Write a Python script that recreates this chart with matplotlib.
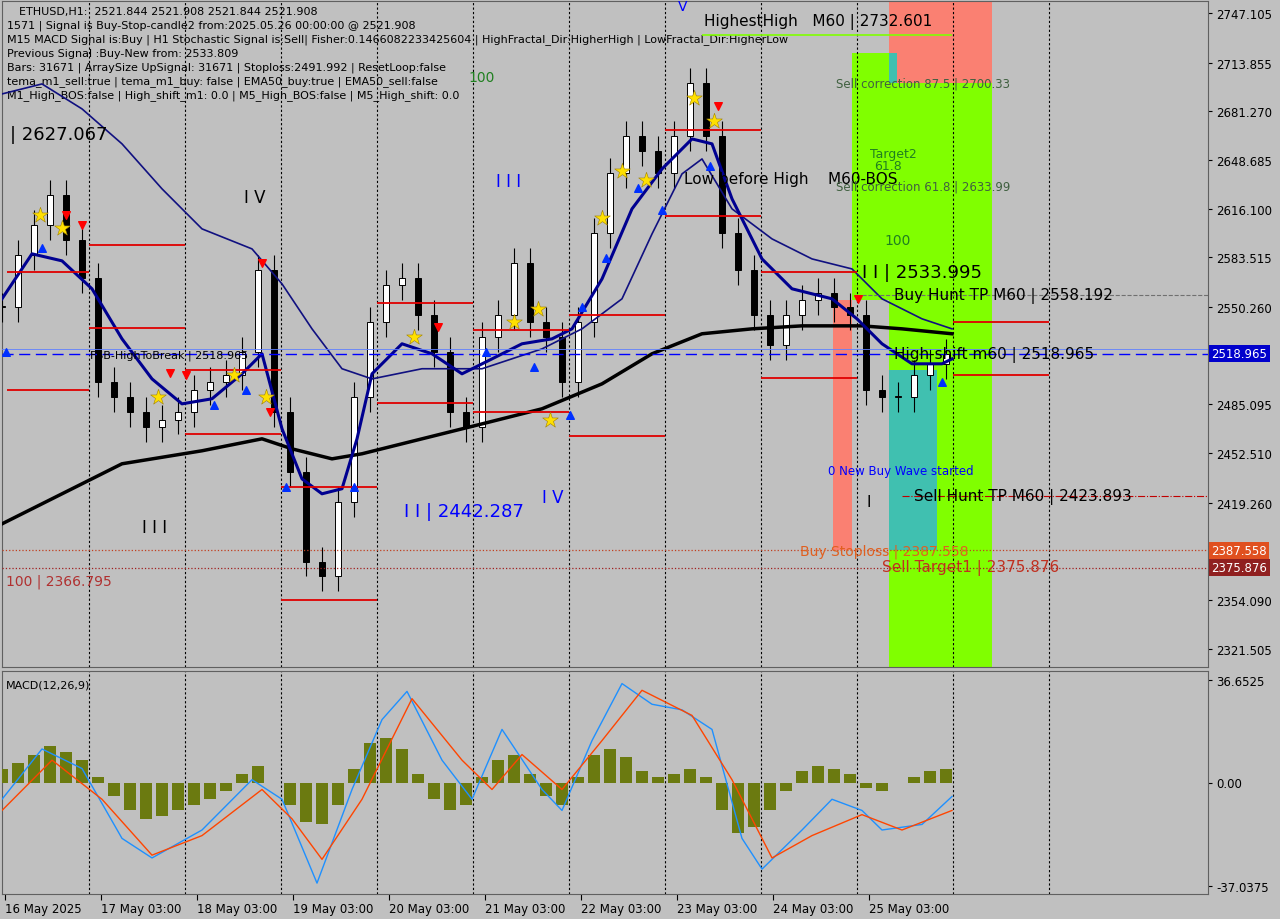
import matplotlib
matplotlib.use("Agg")
import matplotlib.pyplot as plt
import numpy as np
from matplotlib.patches import Rectangle

# 4-hour sampled closes (hours from chart start)
closes = [2550, 2585, 2605, 2625, 2595, 2570, 2500, 2490, 2480, 2470, 2475, 2480, 2495, 2500, 2505,
          2520, 2575, 2480, 2440, 2380, 2370, 2420, 2490, 2540, 2565, 2570, 2545, 2520, 2480, 2470,
          2530, 2545, 2580, 2540, 2530, 2500, 2540, 2600, 2640, 2665, 2655, 2640, 2665, 2700, 2665,
          2600, 2575, 2545, 2525, 2545, 2555, 2560, 2550, 2545, 2495, 2490, 2490, 2505, 2512, 2519]
hist = [5, 7, 10, 13, 11, 8, 2, -5, -10, -13, -12, -10, -8, -6, -3, 3, 6, 0, -8, -14, -15, -8, 5, 14,
        16, 12, 3, -6, -10, -8, 2, 8, 10, 3, -5, -8, 2, 10, 12, 9, 4, 2, 3, 5, 2, -10, -18, -16, -10,
        -3, 4, 6, 5, 3, -2, -3, 0, 2, 4, 5]

ema_fast_h = [0, 7.5, 15, 22.5, 30, 37.5, 45, 52.5, 60, 65, 70, 75, 80, 85, 88.75, 92.5, 100, 107.5,
              115, 122.5, 130, 137.5, 142.5, 150, 157.5, 165, 172.5, 177.5, 182.5, 190, 197.5, 207.5,
              213.75, 220, 227.5, 235, 237.5]
ema_fast_p = [2555.8, 2585.9, 2581.2, 2562.5, 2529, 2502.2, 2485.5, 2488.9, 2505.6, 2519, 2468.8,
              2435.3, 2425.3, 2428.7, 2462.1, 2505.6, 2525.7, 2519, 2505.6, 2515.6, 2525.7, 2529,
              2535.7, 2569.1, 2616, 2642.7, 2662.8, 2659.5, 2622.7, 2582.5, 2562.5, 2555.8, 2542.4,
              2525.7, 2512.3, 2512.3, 2515.6]
ema_slow_h = [0, 10, 20, 30, 40, 50, 62.5, 70, 77.5, 85, 92.5, 105, 120, 135, 145, 155, 162.5, 170,
              175, 182.5, 192.5, 202.5, 212.5, 220, 230, 237.5]
ema_slow_p = [2692.9, 2699.6, 2682.9, 2659.5, 2629.4, 2602.6, 2589.2, 2565.8, 2535.7, 2509, 2502.2,
              2509, 2509, 2522.3, 2535.7, 2555.8, 2599.2, 2639.4, 2649.4, 2616, 2595.9, 2582.5,
              2575.8, 2555.8, 2542.4, 2535.7]
ema200_h = [0, 15, 30, 50, 65, 72.5, 82.5, 90, 105, 120, 135, 150, 162.5, 175, 187.5, 200, 215, 225, 237.5]
ema200_p = [2405.2, 2425.3, 2445.4, 2454.1, 2462.1, 2455.4, 2448.7, 2452.1, 2462.1, 2472.1, 2482.2,
            2498.9, 2519, 2532.4, 2535.7, 2537.7, 2537.7, 2535.7, 2532.4]

macd_h = [0, 10, 20, 30, 37.5, 50, 62.5, 70, 78.75, 87.5, 95, 101.25, 110, 117.5, 125, 135, 140,
          147.5, 155, 162.5, 170, 177.5, 185, 190, 200, 207.5, 215, 220, 230, 237.5]
macd_v = [-6, 12, 5, -20, -27, -17, 1, -6, -36, -2.5, 22.5, 32.6, 8, -6, 19, -2.5, -10, 15, 35.4,
          28, 26, 19, -20, -31, -17, -6, -10, -17, -15, -5]
sig_h = [0, 12.5, 25, 37.5, 50, 65, 72.5, 80, 90, 102.5, 115, 122.5, 130, 140, 150, 160, 172.5,
         182.5, 192.5, 202.5, 215, 225, 237.5]
sig_v = [-10, 8, -6, -26, -19, -2.5, -13, -27.5, -6, 30, 8, -2.5, 10, -2.5, 15, 33, 24, 1, -27,
         -19, -11.5, -17, -10]

levels = [(1.25, 21.75, 2574), (21.75, 45.75, 2592), (21.75, 45.75, 2536), (1.25, 21.75, 2495),
          (45.75, 69.75, 2508), (45.75, 69.75, 2465), (69.75, 93.75, 2430), (69.75, 93.75, 2354),
          (93.75, 117.75, 2553), (93.75, 117.75, 2486), (117.75, 141.75, 2535), (117.75, 141.75, 2480),
          (141.75, 165.75, 2545), (141.75, 165.75, 2464), (165.75, 189.75, 2669), (165.75, 189.75, 2611),
          (189.75, 213.75, 2574), (189.75, 213.75, 2503), (237.75, 261.75, 2540), (237.75, 261.75, 2505)]

BG = "#c0c0c0"
fig = plt.figure(figsize=(12.8, 9.2), dpi=100, facecolor=BG)
ax = fig.add_axes([2 / 1280, 252 / 920, 1206 / 1280, 666 / 920], facecolor=BG)
axm = fig.add_axes([2 / 1280, 25 / 920, 1206 / 1280, 223 / 920], facecolor=BG)

hours = np.arange(len(closes)) * 4.0
opens = [closes[0]] + closes[:-1]
for h, o, c in zip(hours, opens, closes):
    ax.vlines(h, min(o, c) - 10, max(o, c) + 10, color="black", lw=0.8, zorder=3)
    ax.add_patch(Rectangle((h - 0.8, min(o, c)), 1.6, max(abs(c - o), 0.8),
                           facecolor="white" if c >= o else "black", edgecolor="black", lw=0.7, zorder=4))

# right side zones
zones = [(212.5, 4.5, 2555, 2597, "#80ff00"), (207.75, 4.75, 2388, 2555, "#fa8072"),
         (212.5, 9.25, 2555, 2720, "#80ff00"), (221.75, 25.75, 2309, 2700, "#80ff00"),
         (221.75, 25.75, 2700, 2755, "#fa8072"), (221.75, 12, 2388, 2508, "#40c0b0"),
         (221.75, 2, 2700, 2720, "#40c0b0"), (207.75, 4.75, 2388, 2555, "#fa8072")]
for x0, w, lo, hi, col in zones:
    ax.add_patch(Rectangle((x0, lo), w, hi - lo, facecolor=col, edgecolor="none", zorder=1))

ax.plot(ema200_h, ema200_p, color="black", lw=2.5, zorder=5)
ax.plot(ema_slow_h, ema_slow_p, color="#101080", lw=1.2, zorder=5)
ax.plot(ema_fast_h, ema_fast_p, color="#000090", lw=2.2, zorder=5)

for x0, x1, p in levels:
    ax.hlines(p, x0, x1, color="#e00000", lw=1.3, zorder=6)

for d in range(11):
    for a in (ax, axm):
        a.axvline(21.75 + 24 * d, color="black", ls=(0, (2, 2)), lw=0.8, zorder=2)

ax.axhline(2518.965, color="#0000ff", ls=(0, (8, 4)), lw=1, zorder=6)
ax.axhline(2521.9, color="#6080ff", lw=0.6, zorder=6)
ax.axhline(2387.558, color="#c04020", ls=":", lw=0.9, zorder=6)
ax.axhline(2375.876, color="#a02020", ls=":", lw=0.9, zorder=6)
ax.hlines(2558.192, 215, 302, color="#707070", ls="--", lw=0.8, zorder=6)
ax.hlines(2423.893, 225, 302, color="#c00000", ls="-.", lw=0.8, zorder=6)
ax.hlines(2732.6, 175, 237.5, color="#80ff00", lw=1.2, zorder=6)

stars = [(9.5, 2612), (15, 2603), (39, 2490), (58, 2505), (66, 2490), (103, 2530), (128, 2540),
         (134, 2549), (137, 2475), (150, 2610), (155, 2641), (161, 2635), (173, 2690), (178, 2675)]
ax.scatter(*zip(*stars), marker="*", s=140, color="#ffe000", edgecolor="#a08000", lw=0.4, zorder=8)
up = [(1, 2520), (10, 2590), (53, 2485), (61, 2495), (71, 2430), (88, 2430), (121, 2520),
      (133, 2510), (142, 2478), (145, 2550), (151, 2583), (159, 2630), (165, 2615), (177, 2645), (235, 2500)]
ax.scatter(*zip(*up), marker="^", s=30, color="#0030ff", zorder=8)
dn = [(16, 2612), (20, 2605), (42, 2506), (46, 2505), (65, 2580), (67, 2480), (109, 2537),
      (179, 2685), (214, 2556)]
ax.scatter(*zip(*dn), marker="v", s=30, color="#ff0000", zorder=8)

ax.set_xlim(0, 301.5)
ax.set_ylim(2309.4, 2755.1)
axm.set_xlim(0, 301.5)
axm.set_ylim(-39.9, 39.9)

axm.bar(hours, hist, width=3, color="#6b7a10", zorder=3)
axm.plot(macd_h, macd_v, color="#1e90ff", lw=1, zorder=4)
axm.plot(sig_h, sig_v, color="#ff4500", lw=1, zorder=4)
axm.text(1, 37, "MACD(12,26,9)", fontsize=8, va="top")

for a in (ax, axm):
    a.yaxis.tick_right()
    a.tick_params(axis="y", labelsize=8.5, length=3, pad=3, colors="black")
    for s in a.spines.values():
        s.set_color("#606060")

ticks = [2747.105, 2713.855, 2681.270, 2648.685, 2616.100, 2583.515, 2550.260, 2485.095,
         2452.510, 2419.260, 2354.090, 2321.505]
ax.set_yticks(ticks)
ax.set_yticklabels([f"{t:.3f}" for t in ticks])
ax.set_xticks([])
for p, fc in ((2518.965, "#0000cc"), (2387.558, "#e05020"), (2375.876, "#902020")):
    ax.text(1.003, p, f"{p:.3f}", transform=ax.get_yaxis_transform(), fontsize=8.5, color="white",
            va="center", ha="left", bbox=dict(facecolor=fc, edgecolor="none", pad=1.5), clip_on=False)

axm.set_yticks([36.6525, 0, -37.0375])
axm.set_yticklabels(["36.6525", "0.00", "-37.0375"])
xt = [0.75] + [24.75 + 24 * k for k in range(9)]
xl = ["16 May 2025"] + [f"{d} May 03:00" for d in range(17, 26)]
axm.set_xticks(xt)
axm.set_xticklabels(xl, fontsize=8.5, ha="left")
axm.tick_params(axis="x", length=4, pad=2)

header = ["ETHUSD,H1:  2521.844 2521.908 2521.844 2521.908",
          "1571 | Signal is Buy-Stop-candle2 from:2025.05.26 00:00:00 @ 2521.908",
          "M15 MACD Signal is:Buy | H1 Stochastic Signal is:Sell| Fisher:0.1466082233425604 | HighFractal_Dir:HigherHigh | LowFractal_Dir:HigherLow",
          "Previous Signal :Buy-New from: 2533.809",
          "Bars: 31671 | ArraySize UpSignal: 31671 | Stoploss:2491.992 | ResetLoop:false",
          "tema_m1_sell:true | tema_m1_buy: false | EMA50_buy:true | EMA50_sell:false",
          "M1_High_BOS:false | High_shift_m1: 0.0 | M5_High_BOS:false | M5_High_shift: 0.0"]
for i, line in enumerate(header):
    ax.text(5 / 1206 + (0.01 if i == 0 else 0), 1 - (10 + 14 * i) / 666, line, transform=ax.transAxes,
            fontsize=8, va="center")

labels = [(175.5, 2741.7, "HighestHigh   M60 | 2732.601", 11, "black"),
          (2, 2666, "| 2627.067", 13, "black"),
          (60.5, 2624, "I V", 12, "black"),
          (123.5, 2634.7, "I I I", 12, "#0000ff"),
          (170.5, 2636, "Low before High    M60-BOS", 11, "black"),
          (208.5, 2700.3, "Sell correction 87.5 | 2700.33", 8.5, "#406040"),
          (217, 2653, "Target2", 9, "#208020"),
          (218, 2645, "61.8", 9, "#208020"),
          (208.5, 2631, "Sell correction 61.8 | 2633.99", 8.5, "#406040"),
          (220.5, 2595, "100", 10, "#208020"),
          (116.5, 2704, "100", 10, "#208020"),
          (215, 2574, "I I | 2533.995", 13, "black"),
          (223, 2558.5, "Buy Hunt TP M60 | 2558.192", 11, "black"),
          (223, 2519, "High-shift m60 | 2518.965", 11, "black"),
          (22, 2518.5, "FSB-HighToBreak | 2518.965", 8, "black"),
          (206.5, 2441, "0 New Buy Wave started", 8.5, "#0000ff"),
          (228, 2424, "Sell Hunt TP M60 | 2423.893", 11, "black"),
          (216, 2420, "I", 11, "black"),
          (100.5, 2414, "I I | 2442.287", 13, "#0000ff"),
          (135, 2423, "I V", 12, "#0000ff"),
          (35, 2403, "I I I", 12, "black"),
          (199.5, 2387.5, "Buy Stoploss | 2387.558", 10, "#e06020"),
          (220, 2376, "Sell Target1 | 2375.876", 11, "#c03020"),
          (1, 2366.8, "100 | 2366.795", 10, "#b03030"),
          (169, 2752, "V", 10, "#0000ff")]
for x, y, t, fs, c in labels:
    ax.text(x, y, t, fontsize=fs, color=c, va="center", zorder=9)

fig.savefig("out.png", dpi=100, facecolor=BG)
